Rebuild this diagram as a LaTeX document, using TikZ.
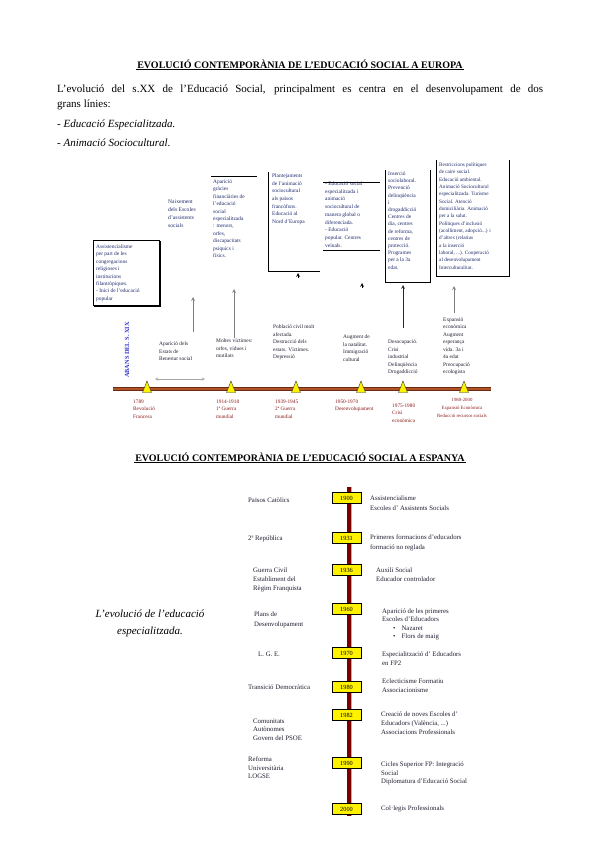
\documentclass[tikz,border=0pt]{standalone}
\usepackage{fontspec}
\setmainfont{Liberation Serif}
\definecolor{datered}{HTML}{8B1A1A}
\definecolor{navy}{HTML}{1F2A6B}
\definecolor{ink}{HTML}{1E1E30}
\definecolor{barbrown}{HTML}{B0552A}
\definecolor{bardark}{HTML}{6E2A10}
\definecolor{spinered}{HTML}{7A0000}
\definecolor{spineedge}{HTML}{D8A0A0}
\definecolor{xixblue}{HTML}{3535C8}

\tikzset{
  boxtxt/.style={anchor=north west, align=left, inner sep=0pt, text=navy,
    font=\fontsize{5.4}{7.4}\selectfont},
  evtlbl/.style={anchor=north west, align=left, inner sep=0pt, text=ink,
    font=\fontsize{5.4}{7.6}\selectfont},
  datelbl/.style={anchor=north west, align=left, inner sep=0pt, text=datered,
    font=\fontsize{5.3}{7.6}\selectfont},
  boxline/.style={line width=.9pt},
  marker/.style={fill=yellow, draw=black!80, line width=.4pt},
  upline/.style={->, gray, line width=.7pt},
  yearbox/.style={draw=black, fill=yellow, line width=.6pt, minimum width=29pt,
    minimum height=10.5pt, inner sep=0pt, font=\fontsize{6.3}{7}\selectfont},
  sidelbl/.style={anchor=north west, align=left, inner sep=0pt, text=ink,
    font=\fontsize{6.8}{9}\selectfont}
}

\begin{document}
\begin{tikzpicture}[x=1pt, y=-1pt, >=stealth]
\useasboundingbox (0,0) rectangle (599,848);

% Europa
\node[inner sep=1pt, font=\fontsize{10}{12}\selectfont\bfseries] (titleEU) at (300,64)
  {EVOLUCIÓ CONTEMPORÀNIA DE L'EDUCACIÓ SOCIAL A EUROPA};
\draw[line width=.6pt] (titleEU.south west) -- (titleEU.south east);

\node[anchor=north west, text width=486pt, align=justify, inner sep=0pt,
  font=\fontsize{11}{15}\selectfont] (intro) at (57,85)
  {L'evolució del s.XX de l'Educació Social, principalment es centra en el desenvolupament de dos\linebreak grans línies:};
\node[anchor=north west, inner sep=0pt, font=\fontsize{11}{15}\selectfont\itshape] (linEsp) at (57,120)
  {- Educació Especialitzada.};
\node[anchor=north west, inner sep=0pt, font=\fontsize{11}{15}\selectfont\itshape] (linAni) at (57,139)
  {- Animació Sociocultural.};

% boxes above the line
\node[boxtxt] (bAssist) at (96,244.5) {Assistencialisme\\per part de les\\congregacions\\religioses i\\institucions\\filantròpiques.\\- Inici de l'educació\\popular};
\draw[boxline] (93,240) rectangle (159,305);
\draw[line width=1.3pt] (160,241) -- (160,306) -- (94,306);

\node[evtlbl, font=\fontsize{5.6}{8}\selectfont, text=navy] (naix) at (168,199.5) {Naixement\\dels Escoles\\d'assistents\\socials};

\node[boxtxt] (bApar) at (213,179.5) {Aparició\\gràcies\\financiàries de\\l'educació\\social\\especialitzada\\: menors,\\orfes,\\discapacitats\\psíquics i\\físics.};
\draw[boxline] (211,176) -- (257,176);

\node[boxtxt, font=\fontsize{5.4}{7.7}\selectfont] (bPlant) at (272,173.5) {Plantejaments\\de l'animació\\sociocultural\\als països\\francòfons.\\Educació al\\Nord d'Europa};
\draw[boxline] (268,172) -- (268,271) -- (320,271);

\node[boxtxt, font=\fontsize{5.4}{7.75}\selectfont] (bEduc) at (325,181.5) {- Educació social\\especialitzada i\\animació\\sociocultural de\\manera global o\\diferenciada.\\- Educació\\popular. Centres\\veïnals.};
\draw[boxline] (323,182) -- (380,182);
\draw[boxline] (323,250) -- (380,250);

\node[boxtxt, font=\fontsize{5.4}{7.2}\selectfont] (bInser) at (388,171.5) {Inserció\\sociolaboral.\\Prevenció\\delinqüència\\i\\drogaddicció\\Centres de\\dia, centres\\de reforma,\\centres de\\protecció.\\Programes\\per a la 3a\\edat.};
\draw[boxline] (385,170) -- (385,282) -- (430,282) -- (430,170);

\node[boxtxt, font=\fontsize{5.2}{7.35}\selectfont] (bRestr) at (439,162.5) {Restriccions polítiques\\de caire social.\\Educació ambiental.\\Animació Sociocultural\\especialitzada. Turisme\\Social. Atenció\\domiciliària. Animació\\per a la salut.\\Polítiques d'inclusió\\(acolliment, adopció...) i\\d'altres (relatius\\a la inserció\\laboral, ...). Cooperació\\al desenvolupament\\Interculturalitat.};
\draw[boxline] (436,160) -- (436,276) -- (509,276) -- (509,160);

% labels above the line
\node[rotate=90, inner sep=0pt, text=xixblue, font=\fontsize{6.3}{7}\selectfont\bfseries] (abans) at (127,350) {ABANS DEL S. XIX};
\node[evtlbl] (lApar) at (159,341.5) {Aparició dels\\Estats de\\Benestar social};
\node[evtlbl] (lMolt) at (216,338.5) {Moltes víctimes:\\orfes, vídues i\\mutilats};
\node[evtlbl] (lPobl) at (273,324.5) {Població civil molt\\afectada.\\Destrucció dels\\estats. Víctimes.\\Depressió};
\node[evtlbl] (lAugm) at (343,334.5) {Augment de\\la natalitat.\\Immigració\\cultural};
\node[evtlbl] (lDeso) at (388,339.5) {Desocupació.\\Crisi\\industrial\\Delinqüència\\Drogaddicció};
\node[evtlbl, font=\fontsize{5.4}{7.5}\selectfont] (lExpa) at (443,317.5) {Expansió\\econòmica\\Augment\\esperança\\vida. 3a i\\4a edat\\Preocupació\\ecologista};

% arrows up
\coordinate (tA) at (193,332); \coordinate (hA) at (193,297);
\coordinate (tB) at (234,338); \coordinate (hB) at (234,289);
\coordinate (tC) at (298,278); \coordinate (hC) at (298,273);
\coordinate (tD) at (362,288); \coordinate (hD) at (362,283);
\coordinate (tE) at (403,328); \coordinate (hE) at (403,285);
\coordinate (tF) at (454,313); \coordinate (hF) at (454,286);
\draw[upline] (tA) -- (hA);
\draw[upline] (tB) -- (hB);
\draw[upline, black] (tC) -- (hC);
\draw[upline, black] (tD) -- (hD);
\draw[upline, black!85] (tE) -- (hE);
\draw[upline] (tF) -- (hF);
\coordinate (wL) at (155,379); \coordinate (wR) at (205,379);
\draw[<->, gray!70, line width=.5pt] (wL) -- (wR);

% time line
\coordinate (tlL) at (113,389); \coordinate (tlR) at (491,389);
\draw[line width=3.4pt, bardark] (tlL) -- (tlR);
\draw[line width=2pt, barbrown] (tlL) -- (tlR);
\foreach \x in {147,231,296,361,403,464}
  \draw[marker] (\x,381) -- ({\x+4.5},392.5) -- ({\x-4.5},392.5) -- cycle;

\node[datelbl] (d1) at (133,399.5) {1789\\Revolució\\Francesa};
\node[datelbl] (d2) at (216,399.5) {1914-1918\\1ª Guerra\\mundial};
\node[datelbl] (d3) at (275,399.5) {1939-1945\\2ª Guerra\\mundial};
\node[datelbl] (d4) at (335,399.5) {1950-1970\\Desenvolupament};
\node[datelbl] (d5) at (392,403.5) {1975-1980\\Crisi\\econòmica};
\node[datelbl, anchor=north, align=center, font=\fontsize{4.8}{7.8}\selectfont] (d6) at (462,398.5) {1980-2000\\Expansió Econòmica\\Reducció recursos socials};

% Espanya
\node[inner sep=1pt, font=\fontsize{10}{12}\selectfont\bfseries] (titleES) at (300,457)
  {EVOLUCIÓ CONTEMPORÀNIA DE L'EDUCACIÓ SOCIAL A ESPANYA};
\draw[line width=.6pt] (titleES.south west) -- (titleES.south east);

\node[align=center, inner sep=0pt, font=\fontsize{11}{17}\selectfont\itshape] (lEvol) at (150,623)
  {L'evolució de l'educació\\especialitzada.};

\coordinate (spTop) at (349,487); \coordinate (spBot) at (349,816);
\draw[line width=5pt, spineedge] (spTop) -- (spBot);
\draw[line width=3.6pt, spinered] (spTop) -- (spBot);
\foreach \yy/\lab [count=\i] in {498/1900, 538/1931, 570/1936, 609/1960, 653/1970,
    687/1980, 715/1982, 763/1990, 809/2000}
  \node[yearbox] (yb\i) at (346.5,\yy) {\lab};

\node[sidelbl] (sPais) at (248,497.5) {Països Catòlics};
\node[sidelbl] (sRep) at (248,535.5) {2ª República};
\node[sidelbl] (sGuer) at (253,567.5) {Guerra Civil\\Establiment del\\Règim Franquista};
\node[sidelbl, font=\fontsize{6.8}{10}\selectfont] (sPlan) at (254,611.5) {Plans de\\Desenvolupament};
\node[sidelbl] (sLge) at (258,651.5) {L. G. E.};
\node[sidelbl] (sTran) at (248,684.5) {Transició Democràtica};
\node[sidelbl, font=\fontsize{6.8}{8.6}\selectfont] (sCom) at (253,718.5) {Comunitats\\Autònomes\\Govern del PSOE};
\node[sidelbl, font=\fontsize{6.8}{8.6}\selectfont] (sRef) at (248,756.5) {Reforma\\Universitària\\LOGSE};

\node[sidelbl, font=\fontsize{6.8}{10}\selectfont] (rAss) at (370,495.5) {Assistencialisme\\Escoles d' Assistents Socials};
\node[sidelbl, font=\fontsize{6.8}{10}\selectfont] (rPrim) at (370,534.5) {Primeres formacions d'educadors\\formació no reglada};
\node[sidelbl] (rAux) at (376,567.5) {Auxili Social\\Educador controlador};
\node[sidelbl, font=\fontsize{6.8}{8.5}\selectfont] (rApar) at (382,608.5) {Aparició de les primeres\\Escoles d'Educadors\\\hspace*{11pt}\textbullet\hspace*{6pt}Nazaret\\\hspace*{11pt}\textbullet\hspace*{6pt}Flors de maig};
\node[sidelbl] (rEsp) at (382,651.5) {Especialització d' Educadors\\en FP2};
\node[sidelbl] (rEcl) at (382,678.5) {Eclecticisme Formatiu\\Associacionisme};
\node[sidelbl] (rCrea) at (381,711.5) {Creació de noves Escoles d'\\Educadors (València, ...)\\Associacions Professionals};
\node[sidelbl, font=\fontsize{6.8}{8.6}\selectfont] (rCic) at (381,761.5) {Cicles Superior FP: Integració\\Social\\Diplomatura d'Educació Social};
\node[sidelbl] (rCol) at (381,805.5) {Col·legis Professionals};
\end{tikzpicture}
\end{document}
